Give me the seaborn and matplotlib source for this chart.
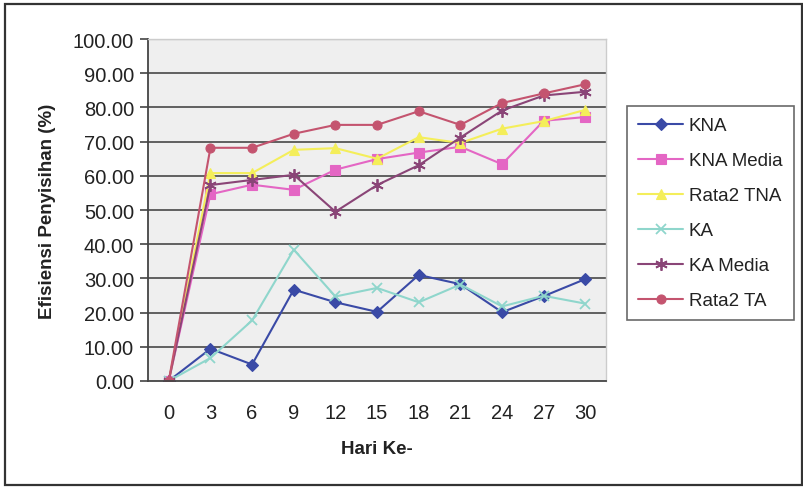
import matplotlib
matplotlib.use("Agg")
import matplotlib.pyplot as plt
import seaborn as sns
import pandas as pd
from matplotlib.patches import Rectangle

hari = [0, 3, 6, 9, 12, 15, 18, 21, 24, 27, 30]
kna = [0.0, 9.4, 4.8, 26.7, 23.0, 20.2, 31.0, 28.3, 20.1, 24.8, 29.8]
kna_media = [0.0, 54.6, 57.4, 55.9, 61.8, 64.9, 66.8, 68.5, 63.4, 76.1, 77.2]
rata2_tna = [0.0, 60.8, 60.8, 67.6, 68.1, 65.0, 71.3, 69.6, 73.8, 76.0, 79.3]
ka = [0.0, 6.7, 17.7, 38.4, 24.7, 27.2, 23.0, 28.2, 21.8, 24.9, 22.6]
ka_media = [0.0, 57.3, 58.8, 60.3, 49.5, 57.3, 63.1, 71.2, 79.1, 83.5, 84.6]
rata2_ta = [0.0, 68.2, 68.2, 72.3, 74.9, 74.9, 78.9, 74.9, 81.3, 84.1, 86.8]

series_names = ["KNA", "KNA Media", "Rata2 TNA", "KA", "KA Media", "Rata2 TA"]
series_values = [kna, kna_media, rata2_tna, ka, ka_media, rata2_ta]
y_ticks = [0, 10, 20, 30, 40, 50, 60, 70, 80, 90, 100]

colors = ["#3a4aa6", "#e466c4", "#f4ee5a", "#8fd6cc", "#8a4577", "#c4546f"]
markers = ["D", "s", "^", "x", (6, 2, 0), "o"]
msizes = [6, 6.5, 6.5, 7, 9, 6.5]

sns.set_theme(style="white")
plt.rcParams["font.family"] = ["Liberation Sans", "DejaVu Sans"]

df = pd.DataFrame({
    "pos": list(range(len(hari))) * len(series_names),
    "nilai": [v for vals in series_values for v in vals],
    "seri": [n for n in series_names for _ in hari],
})

fig = plt.figure(figsize=(8.04, 4.89), dpi=100)
ax = fig.add_axes([0.184, 0.219, 0.570, 0.699])
ax.set_facecolor("#efefef")

for name, col, mk, ms in zip(series_names, colors, markers, msizes):
    sub = df[df["seri"] == name]
    filled = mk not in ("x", (6, 2, 0))
    sns.lineplot(data=sub, x="pos", y="nilai", ax=ax, color=col, linewidth=1.5,
                 marker=mk, markersize=ms, markeredgewidth=1.3 if not filled else 0.8,
                 markeredgecolor=col, markerfacecolor=col, label=name,
                 errorbar=None, sort=False)

ax.set_xlim(-0.5, len(hari) - 0.5)
ax.set_ylim(0, 100)
ax.set_yticks(y_ticks)
ax.set_yticklabels([f"{t:.2f}" for t in y_ticks], fontsize=14.5, color="#222222")
ax.set_xticks(range(len(hari)))
ax.set_xticklabels([str(h) for h in hari], fontsize=14.5, color="#222222")
ax.set_xticks([i - 0.5 for i in range(len(hari) + 1)], minor=True)
ax.tick_params(axis="x", which="major", length=0, pad=16)
ax.tick_params(axis="x", which="minor", length=6, width=1.2, color="#444444", direction="out")
ax.tick_params(axis="y", which="major", length=6, width=1.2, color="#444444", direction="out", pad=4, left=True)

for t in y_ticks[1:-1]:
    ax.axhline(t, color="#555555", linewidth=1.3, zorder=0.5)
ax.axhline(100, color="#cfcfcf", linewidth=1.0, zorder=0.5)

for side in ["left", "bottom"]:
    ax.spines[side].set_color("#444444")
    ax.spines[side].set_linewidth(1.3)
for side in ["top", "right"]:
    ax.spines[side].set_color("#cccccc")
    ax.spines[side].set_linewidth(1.0)

ax.set_xlabel("Hari Ke-", fontsize=13.5, fontweight="bold", labelpad=13, color="#222222")
ax.set_ylabel("Efisiensi Penyisihan (%)", fontsize=13.5, fontweight="bold", labelpad=12, color="#222222")

leg = ax.legend(loc="upper left", bbox_to_anchor=(0.780, 0.781), bbox_transform=fig.transFigure,
                fontsize=13.5, frameon=True, fancybox=False, edgecolor="#444444",
                handlelength=2.4, handletextpad=0.3, labelspacing=0.95,
                borderpad=0.6, borderaxespad=0)
leg.get_frame().set_linewidth(1.2)
for txt in leg.get_texts():
    txt.set_color("#222222")

fig.patches.append(Rectangle((5 / 804, 3 / 489), 797 / 804, 481 / 489, transform=fig.transFigure,
                             fill=False, edgecolor="#333333", linewidth=1.6))

fig.savefig("out.png", dpi=100, facecolor="white")
